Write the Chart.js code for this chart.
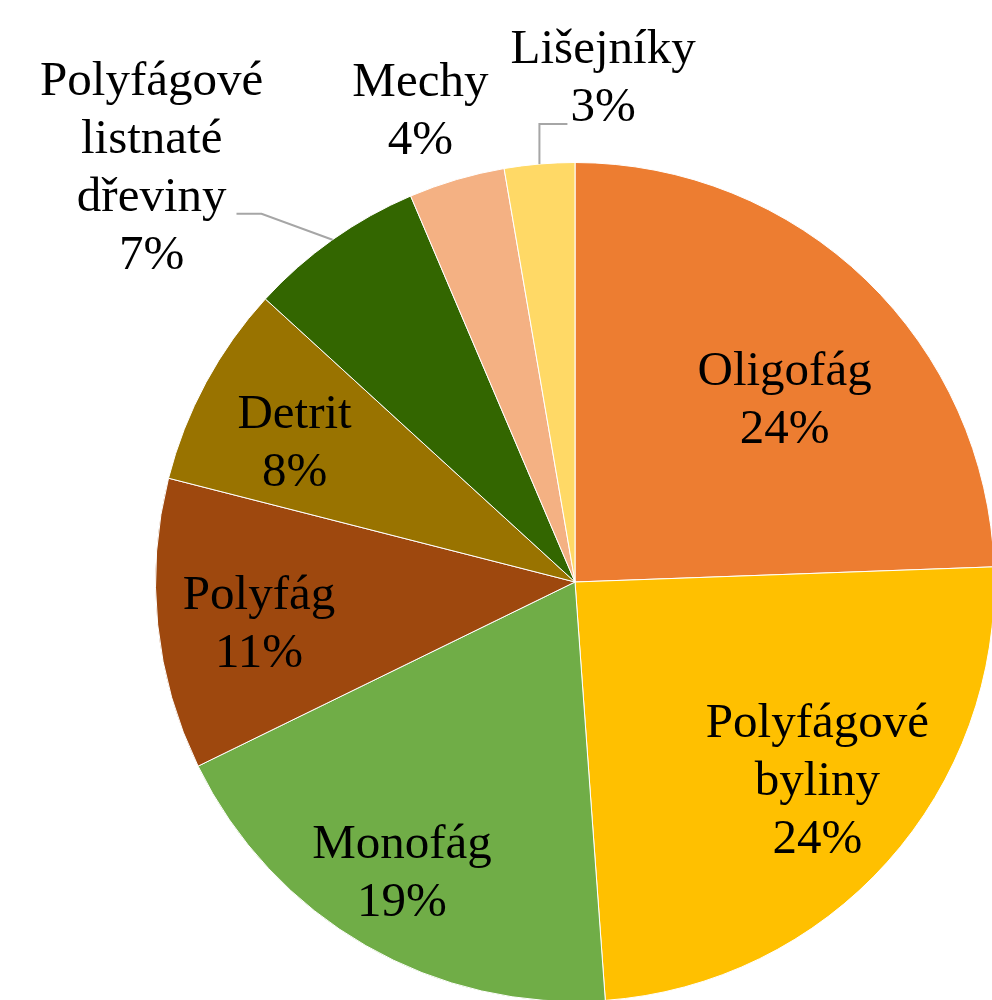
<!DOCTYPE html>
<html>
<head>
<meta charset="utf-8">
<script src="https://cdn.jsdelivr.net/npm/chart.js@4.4.0/dist/chart.umd.min.js"></script>
<style>
  html, body { margin: 0; padding: 0; background: #fff; }
  #wrap { width: 992px; height: 1000px; overflow: hidden; position: relative; }
  #foodChart { position: absolute; left: 0; top: 0; }
</style>
</head>
<body>
<div id="wrap"><canvas id="foodChart" width="1100" height="1100"></canvas></div>
<script>
const categories = ['Oligofág', 'Polyfágové byliny', 'Monofág', 'Polyfág', 'Detrit',
  'Polyfágové listnaté dřeviny', 'Mechy', 'Lišejníky'];
const shares = [24.4, 24.4, 18.9, 11.2, 7.8, 6.8, 3.7, 2.7];
const colors = ['#ED7D31', '#FFC000', '#70AD47', '#9E480E', '#997300', '#336600', '#F4B183', '#FFD966'];

// label text lines per slice (name split as in the original)
const labelLines = [
  ['Oligofág'], ['Polyfágové', 'byliny'], ['Monofág'], ['Polyfág'], ['Detrit'],
  ['Polyfágové', 'listnaté', 'dřeviny'], ['Mechy'], ['Lišejníky']
];
// label placement: angle from top (deg, clockwise) and distance as fraction of radius
const labelPlace = [
  [49.2, 0.66], [129.6, 0.75], [210.6, 0.81], [262.3, 0.76], [296.2, 0.745],
  [314.3, 1.41], [341.8, 1.18], [3.2, 1.2]
];

const lineH = 58;
const fontSpec = '49px "Liberation Serif", "Times New Roman", serif';

const labelPlugin = {
  id: 'pieLabels',
  afterDatasetsDraw(chart) {
    const ctx = chart.ctx;
    const arcs = chart.getDatasetMeta(0).data;
    const cx = arcs[0].x, cy = arcs[0].y, r = arcs[0].outerRadius;
    const pt = (deg, dist) => {
      const a = (deg - 90) * Math.PI / 180;
      return [cx + Math.cos(a) * dist, cy + Math.sin(a) * dist];
    };
    ctx.save();

    // leader lines for outside labels
    ctx.strokeStyle = '#A6A6A6';
    ctx.lineWidth = 2;
    const midDeg = i => ((arcs[i].startAngle + arcs[i].endAngle) / 2) * 180 / Math.PI + 90;
    // Polyfágové listnaté dřeviny
    let e = pt(midDeg(5), r);
    ctx.beginPath();
    ctx.moveTo(e[0], e[1]);
    ctx.lineTo(e[0] - 71, e[1] - 26);
    ctx.lineTo(e[0] - 96, e[1] - 26);
    ctx.stroke();
    // Lišejníky
    e = pt(midDeg(7), r);
    ctx.beginPath();
    ctx.moveTo(e[0], e[1]);
    ctx.lineTo(e[0], e[1] - 40);
    ctx.lineTo(e[0] + 28, e[1] - 40);
    ctx.stroke();

    ctx.fillStyle = '#000';
    ctx.font = fontSpec;
    ctx.textAlign = 'center';
    ctx.textBaseline = 'middle';
    shares.forEach((v, i) => {
      const lines = labelLines[i].concat([Math.round(v) + '%']);
      const [x, y] = pt(labelPlace[i][0], labelPlace[i][1] * r);
      const top = y - (lines.length - 1) * lineH / 2;
      lines.forEach((t, k) => ctx.fillText(t, x, top + k * lineH));
    });
    ctx.restore();
  }
};

new Chart(document.getElementById('foodChart').getContext('2d'), {
  type: 'pie',
  data: {
    labels: categories,
    datasets: [{
      data: shares,
      backgroundColor: colors,
      borderColor: '#fff',
      borderWidth: 1
    }]
  },
  options: {
    responsive: false,
    animation: false,
    layout: { padding: { left: 155, top: 162, right: 105, bottom: 98 } },
    plugins: {
      legend: { display: false },
      tooltip: { enabled: false }
    }
  },
  plugins: [labelPlugin]
});
</script>
</body>
</html>
